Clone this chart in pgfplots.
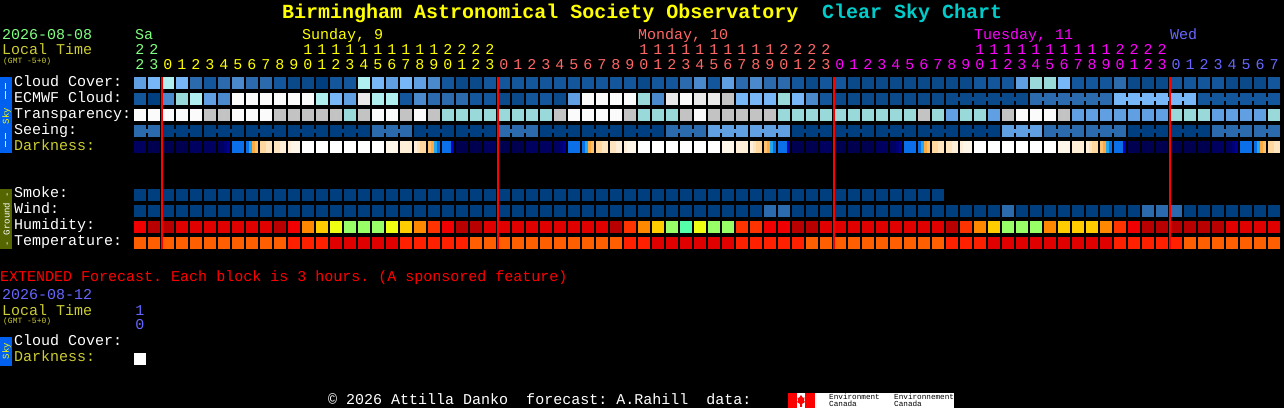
\documentclass[border=0pt]{standalone}
\usepackage{fontspec}
\setmainfont{Liberation Mono}
\usepackage{pgfplots}
\pgfplotsset{compat=1.18}

% block marks, 1 bp is 1 pixel of the reference
\pgfdeclareplotmark{cell}{\pgfpathrectangle{\pgfpoint{-6bp}{-6bp}}{\pgfpoint{12bp}{12bp}}\pgfusepathqfill}
\pgfdeclareplotmark{slice}{\pgfpathrectangle{\pgfpoint{-1.5bp}{-6bp}}{\pgfpoint{3bp}{12bp}}\pgfusepathqfill}
\pgfdeclareplotmark{join}{\pgfpathrectangle{\pgfpoint{-1bp}{-2bp}}{\pgfpoint{2bp}{4bp}}\pgfusepathqfill}

% cloud, transparency, seeing
\definecolor{cc0}{HTML}{003F7F}
\definecolor{cd}{HTML}{0A4A8A}
\definecolor{cc1}{HTML}{13569B}
\definecolor{cc2}{HTML}{2B6BAD}
\definecolor{cc3}{HTML}{4A8ACC}
\definecolor{cc4}{HTML}{5F9FE2}
\definecolor{cc5}{HTML}{77B7F7}
\definecolor{cc6}{HTML}{99D9D9}
\definecolor{cc7}{HTML}{B0EFEF}
\definecolor{cc8}{HTML}{C3C3C3}
\definecolor{cc9}{HTML}{E9E9E9}
\definecolor{cc10}{HTML}{FBFBFB}
% darkness
\definecolor{cnA}{HTML}{000050}
\definecolor{cnB}{HTML}{000060}
\definecolor{cnC}{HTML}{000078}
\definecolor{cnD}{HTML}{000098}
\definecolor{cnE}{HTML}{0000C0}
\definecolor{cb}{HTML}{0A6FE8}
\definecolor{ccy}{HTML}{20A8F0}
\definecolor{cg1}{HTML}{FFAA40}
\definecolor{cg2}{HTML}{FFC070}
\definecolor{cg3}{HTML}{FFD8A0}
\definecolor{cg4}{HTML}{FFE4C0}
\definecolor{cg5}{HTML}{FFEED8}
\definecolor{cg6}{HTML}{FFF6EA}
\definecolor{cw}{HTML}{FFFFFF}
% humidity, temperature
\definecolor{ch0}{HTML}{B80000}
\definecolor{ch1}{HTML}{E00000}
\definecolor{ch2}{HTML}{F00000}
\definecolor{ch3}{HTML}{FF3300}
\definecolor{ch4}{HTML}{FF8800}
\definecolor{ch5}{HTML}{FFCC00}
\definecolor{ch6}{HTML}{EEFF11}
\definecolor{ch7}{HTML}{99FF66}
\definecolor{ch8}{HTML}{55FFAA}
\definecolor{ct0}{HTML}{FF5F00}
\definecolor{ct1}{HTML}{FF2000}
% text
\definecolor{sat}{HTML}{80FF80}
\definecolor{sun}{HTML}{FFFF00}
\definecolor{mon}{HTML}{FF6666}
\definecolor{tue}{HTML}{FF00FF}
\definecolor{wed}{HTML}{6666FF}
\definecolor{dim}{HTML}{CCCC33}
\definecolor{teal}{HTML}{00CCCC}
\definecolor{skybar}{HTML}{0060F0}
\definecolor{groundbar}{HTML}{556600}

\pgfplotsset{cellplot/.style={only marks,scatter,scatter src=explicit symbolic,
  scatter/classes={
    c0={color=cc0},d={color=cd},c1={color=cc1},c2={color=cc2},c3={color=cc3},c4={color=cc4},
    c5={color=cc5},c6={color=cc6},c7={color=cc7},c8={color=cc8},c9={color=cc9},c10={color=cc10},
    nA={color=cnA},nB={color=cnB},nC={color=cnC},nD={color=cnD},nE={color=cnE},
    b={color=cb},cy={color=ccy},g1={color=cg1},g2={color=cg2},g3={color=cg3},
    g4={color=cg4},g5={color=cg5},g6={color=cg6},w={color=cw},
    h0={color=ch0},h1={color=ch1},h2={color=ch2},h3={color=ch3},h4={color=ch4},
    h5={color=ch5},h6={color=ch6},h7={color=ch7},h8={color=ch8},t0={color=ct0},t1={color=ct1}}}}

% #1 row centre, #2 "cell class" pairs
\newcommand\cells[2]{\addplot[cellplot,mark=cell] table[row sep=\\,x expr={140+14*\thisrow{i}},y expr=#1,meta=c] {i c\\#2};}
% bridge between cell i and i+1
\newcommand\joins[2]{\addplot[cellplot,mark=join] table[row sep=\\,x expr={147+14*\thisrow{i}},y expr=#1,meta=c] {i c\\#2};}
% 3 px slices, x in pixels
\newcommand\slices[2]{\addplot[cellplot,mark=slice] table[row sep=\\,x=x,y expr=#1,meta=c] {x c\\#2};}

\newcommand\fs[1]{\fontsize{#1}{#1}\selectfont}
\newcommand\tx[4]{\node[anchor=base west,inner sep=0pt,text=#3,font=\fs{15.06}] at (#1,#2) {#4};}

\begin{document}
\frenchspacing
\begin{tikzpicture}
\useasboundingbox (0,0) rectangle (1284bp,408bp);
\fill[black] (0,0) rectangle (1284bp,408bp);
\begin{axis}[hide axis,scale only axis,width=1284bp,height=408bp,
  xmin=0,xmax=1284,ymin=0,ymax=408,y dir=reverse,clip mode=individual]
% Cloud Cover
\cells{83}{0 c4\\1 c5\\2 c7\\3 c5\\4 c2\\5 c1\\6 c2\\7 c3\\8 c2\\9 c2\\10 c1\\11 d\\12 d\\13 c0\\14 c1\\15 c1\\16 c7\\17 c5\\18 c4\\19 c5\\20 c4\\21 c3\\22 c1\\23 d\\24 d\\25 c1\\26 c1\\27 c1\\28 c1\\29 c1\\30 c1\\31 c1\\32 c1\\33 c1\\34 c1\\35 c1\\36 d\\37 c1\\38 c1\\39 c2\\40 c3\\41 c1\\42 c4\\43 c2\\44 c3\\45 c2\\46 c2\\47 c1\\48 d\\49 c1\\50 c1\\51 d\\52 d\\53 d\\54 d\\55 d\\56 d\\57 d\\58 d\\59 d\\60 c1\\61 c1\\62 c1\\63 c4\\64 c6\\65 c6\\66 c5\\67 c1\\68 c1\\69 c1\\70 c2\\71 d\\72 d\\73 d\\74 c1\\75 c1\\76 c1\\77 c1\\78 d\\79 d\\80 d\\81 c1\\}
% ECMWF Cloud
\cells{99}{0 c1\\1 c0\\2 c3\\3 c6\\4 c7\\5 c4\\6 c3\\7 c10\\8 c10\\9 c10\\10 c10\\11 c10\\12 c10\\13 c7\\14 c5\\15 c4\\16 c9\\17 c7\\18 c7\\19 c1\\20 c3\\21 c2\\22 c2\\23 c2\\24 c1\\25 c1\\26 d\\27 d\\28 c1\\29 c1\\30 d\\31 c4\\32 c10\\33 c10\\34 c10\\35 c10\\36 c6\\37 c3\\38 c9\\39 c10\\40 c9\\41 c9\\42 c8\\43 c5\\44 c5\\45 c5\\46 c6\\47 c5\\48 c3\\49 c1\\50 d\\51 d\\52 d\\53 d\\54 d\\55 d\\56 d\\57 d\\58 d\\59 d\\60 d\\61 d\\62 d\\63 d\\64 c2\\65 c2\\66 c2\\67 c2\\68 c2\\69 c2\\70 c5\\71 c5\\72 c5\\73 c5\\74 c5\\75 c5\\76 c1\\77 c1\\78 c1\\79 c1\\80 c1\\81 c1\\}
\joins{99}{58 d\\59 d\\60 d\\61 d\\62 d\\64 c2\\65 c2\\66 c2\\67 c2\\68 c2\\70 c5\\71 c5\\72 c5\\73 c5\\74 c5\\76 c1\\77 c1\\78 c1\\79 c1\\80 c1\\}
% Transparency
\cells{115}{0 c10\\1 c10\\2 c10\\3 c10\\4 c10\\5 c8\\6 c8\\7 c10\\8 c10\\9 c10\\10 c8\\11 c8\\12 c8\\13 c8\\14 c8\\15 c6\\16 c8\\17 c10\\18 c10\\19 c8\\20 c10\\21 c8\\22 c6\\23 c6\\24 c6\\25 c6\\26 c6\\27 c6\\28 c6\\29 c6\\30 c8\\31 c10\\32 c10\\33 c10\\34 c10\\35 c8\\36 c6\\37 c6\\38 c6\\39 c8\\40 c10\\41 c8\\42 c8\\43 c8\\44 c8\\45 c8\\46 c6\\47 c6\\48 c6\\49 c6\\50 c6\\51 c6\\52 c6\\53 c6\\54 c6\\55 c6\\56 c8\\57 c6\\58 c4\\59 c6\\60 c6\\61 c4\\62 c8\\63 c10\\64 c10\\65 c10\\66 c8\\67 c4\\68 c4\\69 c4\\70 c4\\71 c4\\72 c4\\73 c4\\74 c6\\75 c6\\76 c6\\77 c4\\78 c4\\79 c4\\80 c4\\81 c6\\}
% Seeing
\cells{131}{0 c2\\1 c2\\2 c0\\3 c0\\4 c0\\5 c0\\6 c0\\7 c0\\8 c0\\9 c0\\10 c0\\11 c0\\12 c0\\13 c0\\14 c0\\15 c0\\16 c0\\17 c2\\18 c2\\19 c2\\20 c0\\21 c0\\22 c0\\23 c0\\24 c0\\25 c0\\26 c2\\27 c2\\28 c2\\29 c0\\30 c0\\31 c0\\32 c0\\33 c0\\34 c0\\35 c0\\36 c0\\37 c0\\38 c2\\39 c2\\40 c2\\41 c4\\42 c4\\43 c4\\44 c4\\45 c4\\46 c4\\47 c0\\48 c0\\49 c0\\50 c0\\51 c0\\52 c0\\53 c0\\54 c0\\55 c0\\56 c0\\57 c0\\58 c0\\59 c0\\60 c0\\61 c0\\62 c4\\63 c4\\64 c4\\65 c2\\66 c2\\67 c2\\68 c2\\69 c2\\70 c2\\71 c0\\72 c0\\73 c0\\74 c0\\75 c0\\76 c0\\77 c2\\78 c2\\79 c2\\80 c2\\81 c2\\}
\joins{131}{0 c2\\2 c0\\3 c0\\5 c0\\6 c0\\8 c0\\9 c0\\11 c0\\12 c0\\14 c0\\15 c0\\17 c2\\18 c2\\20 c0\\21 c0\\23 c0\\24 c0\\26 c2\\27 c2\\29 c0\\30 c0\\32 c0\\33 c0\\35 c0\\36 c0\\38 c2\\39 c2\\41 c4\\42 c4\\44 c4\\45 c4\\47 c0\\48 c0\\50 c0\\51 c0\\53 c0\\54 c0\\56 c0\\57 c0\\59 c0\\60 c0\\62 c4\\63 c4\\65 c2\\66 c2\\68 c2\\69 c2\\71 c0\\72 c0\\74 c0\\75 c0\\77 c2\\78 c2\\80 c2\\}
% Darkness, whole blocks
\cells{147}{0 nB\\1 nA\\2 nA\\3 nA\\4 nB\\5 nB\\7 b\\12 w\\13 w\\14 w\\15 w\\16 w\\17 w\\18 g6\\23 nA\\24 nA\\25 nB\\26 nA\\27 nA\\28 nB\\29 nB\\31 b\\36 w\\37 w\\38 w\\39 w\\40 w\\41 w\\42 g6\\47 nA\\48 nA\\49 nB\\50 nA\\51 nA\\52 nA\\53 nB\\55 b\\60 w\\61 w\\62 w\\63 w\\64 w\\65 w\\66 g6\\71 nA\\72 nA\\73 nA\\74 nA\\75 nA\\76 nA\\77 nB\\79 b\\}
% Darkness, dawn and dusk blocks
\slices{147}{219.5 nB\\222.5 nB\\225.5 nC\\228.5 nD\\247.5 b\\250.5 cy\\253.5 g1\\256.5 g2\\261.5 g3\\264.5 g3\\267.5 g4\\270.5 g4\\275.5 g4\\278.5 g4\\281.5 g5\\284.5 g5\\289.5 g5\\292.5 g6\\295.5 g6\\298.5 g6\\401.5 g5\\404.5 g5\\407.5 g5\\410.5 g5\\415.5 g5\\418.5 g4\\421.5 g3\\424.5 g3\\429.5 g2\\432.5 g1\\435.5 cy\\438.5 b\\443.5 b\\446.5 b\\449.5 b\\452.5 nE\\}
\slices{147}{555.5 nB\\558.5 nB\\561.5 nC\\564.5 nD\\583.5 b\\586.5 cy\\589.5 g1\\592.5 g2\\597.5 g3\\600.5 g3\\603.5 g4\\606.5 g4\\611.5 g4\\614.5 g4\\617.5 g5\\620.5 g5\\625.5 g5\\628.5 g6\\631.5 g6\\634.5 g6\\737.5 g5\\740.5 g5\\743.5 g5\\746.5 g5\\751.5 g5\\754.5 g4\\757.5 g3\\760.5 g3\\765.5 g2\\768.5 g1\\771.5 cy\\774.5 b\\779.5 b\\782.5 b\\785.5 b\\788.5 nE\\}
\slices{147}{891.5 nB\\894.5 nB\\897.5 nC\\900.5 nD\\919.5 b\\922.5 cy\\925.5 g1\\928.5 g2\\933.5 g3\\936.5 g3\\939.5 g4\\942.5 g4\\947.5 g4\\950.5 g4\\953.5 g5\\956.5 g5\\961.5 g5\\964.5 g6\\967.5 g6\\970.5 g6\\1073.5 g5\\1076.5 g5\\1079.5 g5\\1082.5 g5\\1087.5 g5\\1090.5 g4\\1093.5 g3\\1096.5 g3\\1101.5 g2\\1104.5 g1\\1107.5 cy\\1110.5 b\\1115.5 b\\1118.5 b\\1121.5 b\\1124.5 nE\\}
\slices{147}{1227.5 nB\\1230.5 nB\\1233.5 nC\\1236.5 nD\\1255.5 b\\1258.5 cy\\1261.5 g1\\1264.5 g2\\1269.5 g3\\1272.5 g3\\1275.5 g4\\1278.5 g4\\}
% Smoke
\cells{195}{0 c0\\1 c0\\2 c0\\3 c0\\4 c0\\5 c0\\6 c0\\7 c0\\8 c0\\9 c0\\10 c0\\11 c0\\12 c0\\13 c0\\14 c0\\15 c0\\16 c0\\17 c0\\18 c0\\19 c0\\20 c0\\21 c0\\22 c0\\23 c0\\24 c0\\25 c0\\26 c0\\27 c0\\28 c0\\29 c0\\30 c0\\31 c0\\32 c0\\33 c0\\34 c0\\35 c0\\36 c0\\37 c0\\38 c0\\39 c0\\40 c0\\41 c0\\42 c0\\43 c0\\44 c0\\45 c0\\46 c0\\47 c0\\48 c0\\49 c0\\50 c0\\51 c0\\52 c0\\53 c0\\54 c0\\55 c0\\56 c0\\57 c0\\}
% Wind
\cells{211}{0 c0\\1 c0\\2 c0\\3 c0\\4 c0\\5 c0\\6 c0\\7 c0\\8 c0\\9 c0\\10 c0\\11 c0\\12 c0\\13 c0\\14 c0\\15 c0\\16 c0\\17 c0\\18 c0\\19 c0\\20 c0\\21 c0\\22 c0\\23 c0\\24 c0\\25 c0\\26 c0\\27 c0\\28 c0\\29 c0\\30 c0\\31 c0\\32 c0\\33 c0\\34 c0\\35 c0\\36 c0\\37 c0\\38 c0\\39 c0\\40 c0\\41 c0\\42 c0\\43 c0\\44 c0\\45 c2\\46 c2\\47 c0\\48 c0\\49 c0\\50 c0\\51 c0\\52 c0\\53 c0\\54 c0\\55 c0\\56 c0\\57 c0\\58 c0\\59 c0\\60 c0\\61 c0\\62 c2\\63 c0\\64 c0\\65 c0\\66 c0\\67 c0\\68 c0\\69 c0\\70 c0\\71 c0\\72 c2\\73 c2\\74 c2\\75 c0\\76 c0\\77 c0\\78 c0\\79 c0\\80 c0\\81 c0\\}
% Humidity
\cells{227}{0 h2\\1 h0\\2 h0\\3 h1\\4 h1\\5 h1\\6 h1\\7 h1\\8 h1\\9 h1\\10 h0\\11 h2\\12 h4\\13 h5\\14 h6\\15 h7\\16 h7\\17 h7\\18 h6\\19 h5\\20 h4\\21 h3\\22 h2\\23 h0\\24 h0\\25 h1\\26 h1\\27 h1\\28 h1\\29 h1\\30 h1\\31 h1\\32 h1\\33 h1\\34 h0\\35 h3\\36 h4\\37 h5\\38 h7\\39 h8\\40 h6\\41 h7\\42 h7\\43 h3\\44 h3\\45 h2\\46 h2\\47 h0\\48 h0\\49 h1\\50 h1\\51 h1\\52 h1\\53 h1\\54 h1\\55 h1\\56 h1\\57 h1\\58 h0\\59 h3\\60 h4\\61 h5\\62 h7\\63 h7\\64 h7\\65 h4\\66 h5\\67 h5\\68 h5\\69 h4\\70 h3\\71 h2\\72 h0\\73 h0\\74 h0\\75 h0\\76 h0\\77 h0\\78 h1\\79 h1\\80 h1\\81 h1\\}
% Temperature
\cells{243}{0 t0\\1 t0\\2 t0\\3 t0\\4 t0\\5 t0\\6 t0\\7 t0\\8 t0\\9 t0\\10 t0\\11 t1\\12 t1\\13 t1\\14 h1\\15 h1\\16 h1\\17 h1\\18 h1\\19 t1\\20 t1\\21 t1\\22 t1\\23 t1\\24 t0\\25 t0\\26 t0\\27 t0\\28 t0\\29 t0\\30 t0\\31 t0\\32 t0\\33 t0\\34 t0\\35 t1\\36 t1\\37 h1\\38 h1\\39 h1\\40 h1\\41 h1\\42 h1\\43 t1\\44 t1\\45 t1\\46 t1\\47 t1\\48 t0\\49 t0\\50 t0\\51 t0\\52 t0\\53 t0\\54 t0\\55 t0\\56 t0\\57 t0\\58 t1\\59 t1\\60 t1\\61 h1\\62 h1\\63 h1\\64 h1\\65 h1\\66 h1\\67 h1\\68 h1\\69 h1\\70 t1\\71 t1\\72 t1\\73 t1\\74 t1\\75 t0\\76 t0\\77 t0\\78 t0\\79 t0\\80 t0\\81 t0\\}
% Extended forecast
\cells{359}{0 w\\}
% midnight lines
\addplot[red,line width=2bp] coordinates {(162,77) (162,249)};
\addplot[red,line width=2bp] coordinates {(498,77) (498,249)};
\addplot[red,line width=2bp] coordinates {(834,77) (834,249)};
\addplot[red,line width=2bp] coordinates {(1170,77) (1170,249)};
\end{axis}

\begin{scope}[x=1bp,y=-1bp,yshift=408bp]
% title
\node[anchor=base west,inner sep=0pt,text=sun,font=\fs{20.08}\bfseries] at (282,18.5) {Birmingham Astronomical Society Observatory};
\node[anchor=base west,inner sep=0pt,text=teal,font=\fs{20.08}\bfseries] at (822,18.5) {Clear Sky Chart};
% header
\tx{2}{40}{sat}{2026-08-08}
\tx{2}{55}{dim}{Local Time}
\node[anchor=base west,inner sep=0pt,text=dim,font=\fs{8.03}] at (3,64) {(GMT -5+0)};
\tx{135}{40}{sat}{Sa}
\tx{302}{40}{sun}{Sunday, 9}
\tx{638}{40}{mon}{Monday, 10}
\tx{974}{40}{tue}{Tuesday, 11}
\tx{1170}{40}{wed}{Wed}
% hours
\foreach \i in {0,...,81}{
  \pgfmathtruncatemacro\h{mod(\i+22,24)}
  \pgfmathtruncatemacro\u{mod(\h,10)}
  \pgfmathtruncatemacro\t{\h/10}
  \ifnum\i<2 \def\col{sat}\else\ifnum\i<26 \def\col{sun}\else\ifnum\i<50 \def\col{mon}\else\ifnum\i<74 \def\col{tue}\else\def\col{wed}\fi\fi\fi\fi
  \node[anchor=base,inner sep=0pt,text=\col,font=\fs{15.06}] at ({140+14*\i},70) {\u};
  \ifnum\t>0 \node[anchor=base,inner sep=0pt,text=\col,font=\fs{15.06}] at ({140+14*\i},55) {\t};\fi
}
% row labels
\tx{14}{87}{white}{Cloud Cover:}
\tx{14}{103}{white}{ECMWF Cloud:}
\tx{14}{119}{white}{Transparency:}
\tx{14}{135}{white}{Seeing:}
\tx{14}{151}{dim}{Darkness:}
\tx{14}{198}{white}{Smoke:}
\tx{14}{214}{white}{Wind:}
\tx{14}{230}{white}{Humidity:}
\tx{14}{246}{white}{Temperature:}
% side bars
\fill[skybar] (0,77) rectangle (12,153);
\node[rotate=90,inner sep=0pt,text=sun,font=\fs{9.04}] at (6.5,116) {Sky};
\fill[sun] (5,83) rectangle (6,89);
\fill[sun] (5,91) rectangle (6,99);
\fill[sun] (5,133) rectangle (6,139);
\fill[sun] (5,141) rectangle (6,147);
\fill[groundbar] (0,189) rectangle (12,249);
\node[rotate=90,inner sep=0pt,text=white,font=\fs{9.04}] at (6.5,219) {- Ground -};
% extended
\tx{0}{281.5}{red}{EXTENDED Forecast. Each block is 3 hours. (A sponsored feature)}
\tx{2}{300}{wed}{2026-08-12}
\tx{2}{315.5}{dim}{Local Time}
\node[anchor=base west,inner sep=0pt,text=dim,font=\fs{8.03}] at (3,324) {(GMT -5+0)};
\node[anchor=base,inner sep=0pt,text=wed,font=\fs{15.06}] at (140,315.5) {1};
\node[anchor=base,inner sep=0pt,text=wed,font=\fs{15.06}] at (140,330) {0};
\tx{14}{346}{white}{Cloud Cover:}
\tx{14}{362}{dim}{Darkness:}
\fill[skybar] (0,337) rectangle (12,366);
\node[rotate=90,inner sep=0pt,text=sun,font=\fs{9.04}] at (6.5,351) {Sky};
% footer
\tx{328}{405}{white}{© 2026 Attilla Danko\ \ forecast: A.Rahill\ \ data:}
\fill[white] (788,393) rectangle (954,408);
\fill[red] (788,393) rectangle (797,408);
\fill[red] (805,393) rectangle (815,408);
\fill[red] (801,395) -- (803,398) -- (804.5,397.5) -- (804,401) -- (805,402) -- (802,404) -- (802,407) -- (800,407) -- (800,404) -- (797,402) -- (798,401) -- (797.5,397.5) -- (799,398) -- cycle;
\node[anchor=base west,inner sep=0pt,text=black,font=\fs{7.7}] at (829,399.5) {Environment};
\node[anchor=base west,inner sep=0pt,text=black,font=\fs{7.7}] at (829,407) {Canada};
\node[anchor=base west,inner sep=0pt,text=black,font=\fs{7.7}] at (894,399.5) {Environnement};
\node[anchor=base west,inner sep=0pt,text=black,font=\fs{7.7}] at (894,407) {Canada};
\end{scope}
\end{tikzpicture}
\end{document}
